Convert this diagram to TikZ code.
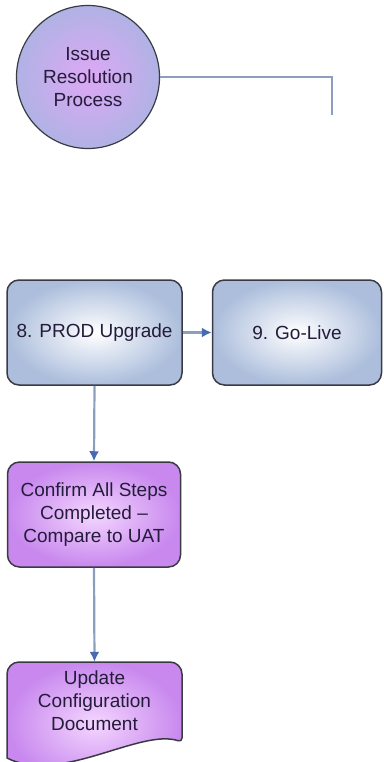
\documentclass[tikz,border=0pt]{standalone}
\usepackage{fontspec}
\setmainfont{Liberation Sans}
\usetikzlibrary{arrows.meta}
\definecolor{boxblue}{RGB}{172,190,220}
\definecolor{circblue}{RGB}{176,178,228}
\definecolor{circpink}{RGB}{222,168,246}
\definecolor{boxpurple}{RGB}{200,136,238}
\definecolor{boxlilac}{RGB}{244,214,255}
\definecolor{linegrey}{RGB}{140,158,190}
\definecolor{arrowblue}{RGB}{72,106,176}
\definecolor{edgegrey}{RGB}{58,58,68}
\definecolor{inkdark}{RGB}{36,28,58}
\begin{document}
\begin{tikzpicture}[x=1pt,y=-1pt,
    every node/.style={font=\fontsize{19}{23}\selectfont, align=center, text=inkdark},
    issuecircle/.style={circle, draw=edgegrey, line width=1.2pt,
      inner color=circpink, outer color=circblue, minimum size=143pt, inner sep=0pt},
    stepbox/.style={rectangle, rounded corners=12pt, draw=edgegrey, line width=1.5pt,
      inner color=white, outer color=boxblue, minimum height=105pt, inner sep=0pt},
    checkbox/.style={stepbox, inner color=boxlilac, outer color=boxpurple},
    docshape/.style={draw=edgegrey, line width=1.5pt,
      inner color=boxlilac, outer color=boxpurple},
    link/.style={draw=linegrey, line width=2.2pt},
    linkarrow/.style={link, -{Latex[color=arrowblue,length=10pt,width=10pt]}}]
  \useasboundingbox (0,0) rectangle (383,762);

  % top: issue process
  \node[issuecircle] (issue) at (88,77) {Issue\\Resolution\\Process};
  \coordinate (linkend) at (332,115);
  \draw[link] (issue.east) -| (linkend);

  % steps 8 and 9
  \node[stepbox, minimum width=175pt] (prod) at (94.5,332.5) {8. PROD Upgrade};
  \node[stepbox, minimum width=169pt] (golive) at (297,332.5) {9. Go-Live};
  \draw[linkarrow] (prod.east) -- (golive.west);

  % checks below PROD
  \node[checkbox, minimum width=173pt] (confirm) at (94,514.5)
    {Confirm All Steps\\Completed --\\Compare to UAT};
  \shadedraw[docshape] (7,758) [rounded corners=12pt] -- (7,662) -- (182,662)
    [rounded corners=4pt] -- (182,742)
    [sharp corners] .. controls (140,728) and (60,785) .. (7,758) -- cycle;
  \node[minimum width=175pt, minimum height=78pt, inner sep=0pt] (update) at (94.5,701)
    {Update\\Configuration\\Document};
  \draw[linkarrow] (prod.south) -- (confirm.north);
  \draw[linkarrow] (confirm.south) -- (update.north);
\end{tikzpicture}
\end{document}
